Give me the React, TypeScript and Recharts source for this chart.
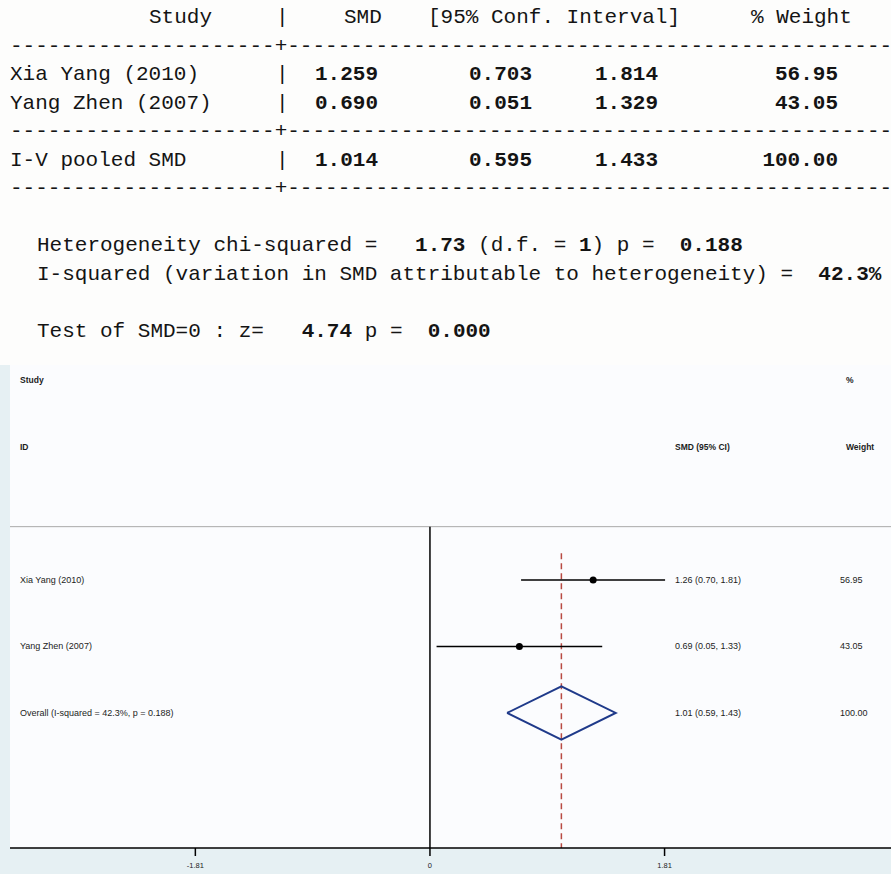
import React from 'react';
import {
  ComposedChart,
  XAxis,
  YAxis,
  Scatter,
  ReferenceLine,
  ReferenceArea,
} from 'recharts';

// per-study results: SMD with 95% CI and I-V weight
const studyNames = ['Xia Yang (2010)', 'Yang Zhen (2007)'];
const studySmd = [1.259, 0.69];
const studyLow = [0.703, 0.051];
const studyHigh = [1.814, 1.329];
const studyWeight = [56.95, 43.05];

// pooled estimate: SMD, lower, upper, weight
const pooledName = 'I-V pooled SMD';
const pooledSmd = [1.014, 0.595, 1.433, 100.0];

// heterogeneity and overall z test
const hetChi2 = 1.73;
const hetDf = 1;
const hetP = 0.188;
const iSquared = 42.3;
const zValue = 4.74;
const zP = 0.0;

const xTicks = [-1.81, 0, 1.81];

const MONO = '"Liberation Mono", "DejaVu Sans Mono", monospace';
const SANS = '"Liberation Sans", Arial, sans-serif';

// results window text grid
const lineY = (k: number) => 16 + 28.5 * k + 7;
const dashes = '-'.repeat(21) + '+' + '-'.repeat(48);
const numEnds = [378, 532, 658];

function ResultsTable() {
  const rows = [
    ...studyNames.map((n, i) => ({
      name: n,
      vals: [studySmd[i], studyLow[i], studyHigh[i]],
      w: studyWeight[i],
      line: 2 + i,
    })),
    { name: pooledName, vals: pooledSmd.slice(0, 3), w: pooledSmd[3], line: 5 },
  ];
  const pre = { whiteSpace: 'pre' as const };
  return (
    <svg width={891} height={365} style={{ display: 'block' }} fontFamily={MONO} fontSize={21} fill="#141414">
      <text y={lineY(0)} style={pre}>
        <tspan x={149}>Study</tspan>
        <tspan x={276}>|</tspan>
        <tspan x={344}>SMD</tspan>
        <tspan x={428}>[95% Conf. Interval]</tspan>
        <tspan x={751}>% Weight</tspan>
      </text>
      {[1, 4, 6].map((k) => (
        <text key={k} x={10} y={lineY(k)} style={pre}>{dashes}</text>
      ))}
      {rows.map((r) => (
        <g key={r.name}>
          <text x={10} y={lineY(r.line)} style={pre}>{r.name}</text>
          <text x={276} y={lineY(r.line)}>|</text>
          {r.vals.map((v, j) => (
            <text key={j} x={numEnds[j]} y={lineY(r.line)} textAnchor="end" fontWeight="bold">
              {v.toFixed(3)}
            </text>
          ))}
          <text x={838} y={lineY(r.line)} textAnchor="end" fontWeight="bold">{r.w.toFixed(2)}</text>
        </g>
      ))}
      <text x={37} y={lineY(8)} style={pre}>
        {'Heterogeneity chi-squared =   '}
        <tspan fontWeight="bold">{hetChi2.toFixed(2)}</tspan>
        {' (d.f. = '}
        <tspan fontWeight="bold">{hetDf}</tspan>
        {') p =  '}
        <tspan fontWeight="bold">{hetP.toFixed(3)}</tspan>
      </text>
      <text x={37} y={lineY(9)} style={pre}>
        {'I-squared (variation in SMD attributable to heterogeneity) =  '}
        <tspan fontWeight="bold">{iSquared.toFixed(1)}%</tspan>
      </text>
      <text x={37} y={lineY(11)} style={pre}>
        {'Test of SMD=0 : z=   '}
        <tspan fontWeight="bold">{zValue.toFixed(2)}</tspan>
        {' p =  '}
        <tspan fontWeight="bold">{zP.toFixed(3)}</tspan>
      </text>
    </svg>
  );
}

// forest plot axes
const X_MIN = -3.24;
const X_MAX = 3.557;
const Y_MIN = -2.23;
const Y_MAX = 5.03;
const SEP_Y = 0.2;

const fmtCI = (e: number, lo: number, hi: number) =>
  `${e.toFixed(2)} (${lo.toFixed(2)}, ${hi.toFixed(2)})`;

const studyRows = studyNames.map((n, i) => ({
  x: studySmd[i],
  y: i + 1,
  label: n,
  est: fmtCI(studySmd[i], studyLow[i], studyHigh[i]),
  w: studyWeight[i].toFixed(2),
}));

const overallRow = [
  {
    x: pooledSmd[0],
    y: studyRows.length + 1,
    label: `Overall  (I-squared = ${iSquared.toFixed(1)}%, p = ${hetP.toFixed(3)})`,
    est: fmtCI(pooledSmd[0], pooledSmd[1], pooledSmd[2]),
    w: pooledSmd[3].toFixed(2),
  },
];

const headerRows = [
  { x: 0, y: -2, label: 'Study', est: '', w: '%' },
  { x: 0, y: -1, label: 'ID', est: 'SMD (95% CI)', w: 'Weight' },
];

const oy = overallRow[0].y;
const diamond = [
  { x: pooledSmd[1], y: oy },
  { x: pooledSmd[0], y: oy - 0.4 },
  { x: pooledSmd[2], y: oy },
  { x: pooledSmd[0], y: oy + 0.4 },
  { x: pooledSmd[1], y: oy },
];

const RowText = (bold: boolean) => (props: any) => {
  const { cy, payload } = props;
  return (
    <g
      fontFamily={SANS}
      fontSize={bold ? 8.5 : 9}
      fill="#1c1c1c"
      fontWeight={bold ? 'bold' : 'normal'}
      style={{ whiteSpace: 'pre' }}
    >
      <text x={20} y={cy + 3}>{payload.label}</text>
      <text x={675} y={cy + 3}>{payload.est}</text>
      <text x={bold ? 846 : 840} y={cy + 3}>{payload.w}</text>
    </g>
  );
};

const StudyPoint = (props: any) => {
  const { cx, cy } = props;
  return (
    <g>
      <circle cx={cx} cy={cy} r={3.5} fill="#000" />
      {RowText(false)(props)}
    </g>
  );
};

function ForestPlot() {
  return (
    <div style={{ background: '#e6f0f3', width: 891, height: 509 }}>
      <ComposedChart width={891} height={509} margin={{ top: 0, right: 0, left: 10, bottom: 0 }}>
        <XAxis
          type="number"
          dataKey="x"
          domain={[X_MIN, X_MAX]}
          allowDataOverflow
          ticks={xTicks}
          interval={0}
          tickFormatter={(v) => (v === 0 ? '0' : v.toFixed(2))}
          height={26}
          tickSize={8}
          tickMargin={7}
          axisLine={{ stroke: '#000', strokeWidth: 1.5 }}
          tickLine={{ stroke: '#000', strokeWidth: 1.5 }}
          tick={{ fontSize: 7.5, fill: '#222', fontFamily: SANS }}
        />
        <YAxis type="number" dataKey="y" domain={[Y_MIN, Y_MAX]} allowDataOverflow reversed hide />
        <ReferenceArea x1={X_MIN} x2={X_MAX} y1={Y_MIN} y2={Y_MAX} fill="#fbfcfe" fillOpacity={1} stroke="none" />
        <ReferenceLine y={SEP_Y} stroke="#a9a9a9" strokeWidth={1} />
        <ReferenceLine
          segment={[{ x: 0, y: SEP_Y }, { x: 0, y: Y_MAX }]}
          stroke="#000"
          strokeWidth={1.5}
        />
        <ReferenceLine
          segment={[{ x: pooledSmd[0], y: 0.6 }, { x: pooledSmd[0], y: Y_MAX }]}
          stroke="#b84a42"
          strokeWidth={1.5}
          strokeDasharray="6 4"
        />
        {studyRows.map((r, i) => (
          <ReferenceLine
            key={r.label}
            segment={[{ x: studyLow[i], y: r.y }, { x: studyHigh[i], y: r.y }]}
            stroke="#000"
            strokeWidth={1.5}
          />
        ))}
        <Scatter
          data={diamond}
          line={{ stroke: '#1f3a8a', strokeWidth: 2 }}
          shape={() => <g />}
          isAnimationActive={false}
        />
        <Scatter data={studyRows} shape={StudyPoint} isAnimationActive={false} />
        <Scatter data={overallRow} shape={RowText(false)} isAnimationActive={false} />
        <Scatter data={headerRows} shape={RowText(true)} isAnimationActive={false} />
      </ComposedChart>
    </div>
  );
}

export default function App() {
  return (
    <div style={{ width: 891, height: 874, background: '#fdfdfc', overflow: 'hidden' }}>
      <style>{'body{margin:0}'}</style>
      <ResultsTable />
      <ForestPlot />
    </div>
  );
}
